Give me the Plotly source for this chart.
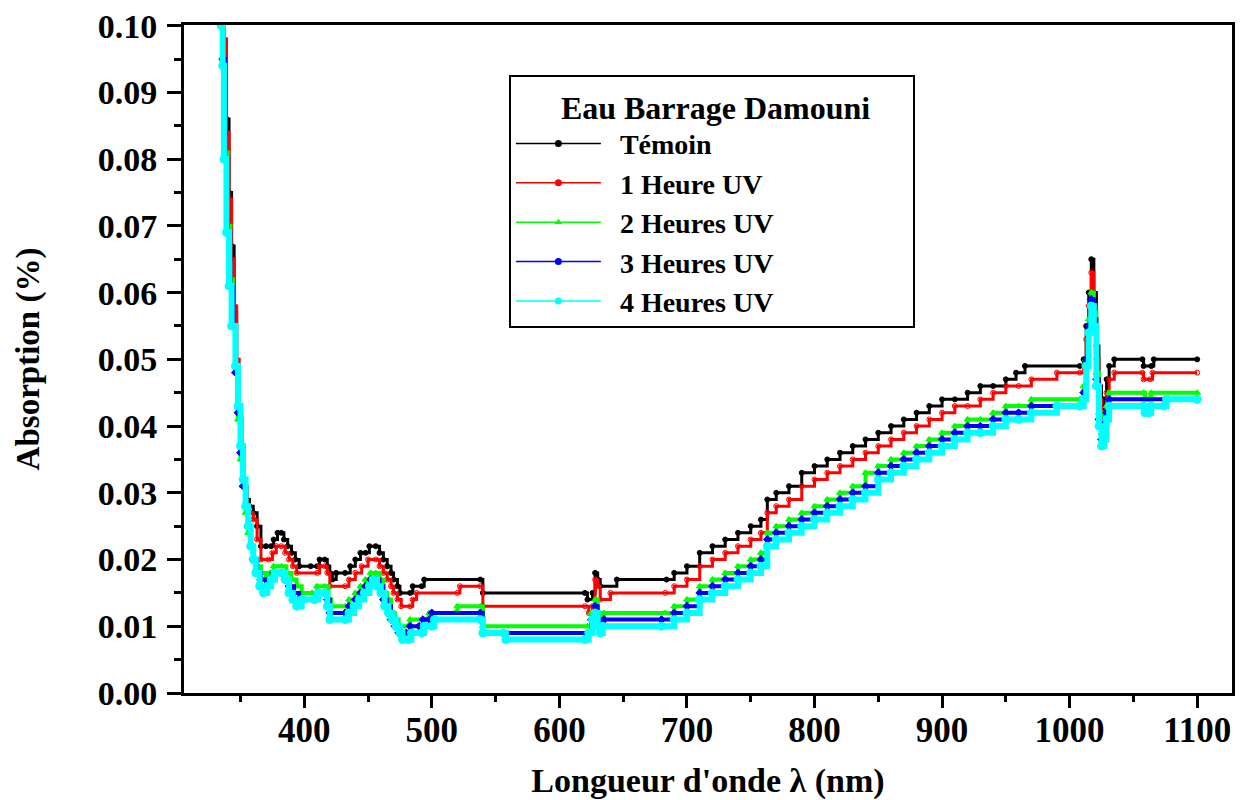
import plotly.graph_objects as go

# ---------------- data ----------------
wl_temoin = [335, 337, 339, 341, 343, 345, 347, 349, 351, 353, 355, 357, 360, 363, 366, 370, 374, 376, 379, 382,
             384, 387, 390, 393, 396, 405, 410, 412, 416, 418, 420, 422, 425, 432, 436, 440, 444, 448, 451, 456,
             459, 462, 465, 468, 470, 473, 475, 483, 485, 492, 494, 538, 540, 620, 622, 626, 628, 630, 632, 645,
             684, 690, 700, 710, 720, 730, 740, 750, 758, 763, 770, 780, 790, 800, 810, 820, 830, 840, 850, 860,
             870, 880, 890, 900, 910, 920, 930, 940, 950, 958, 965, 1008, 1011, 1013, 1015, 1017, 1019, 1021, 1023, 1025,
             1027, 1029, 1031, 1035, 1057, 1058, 1064, 1066, 1100]
abs_temoin = [0.100, 0.093, 0.086, 0.075, 0.067, 0.057, 0.048, 0.041, 0.036, 0.031, 0.029, 0.028, 0.027, 0.025, 0.022, 0.022, 0.022, 0.023, 0.024, 0.024,
              0.023, 0.022, 0.021, 0.020, 0.019, 0.019, 0.019, 0.020, 0.020, 0.019, 0.018, 0.017, 0.018, 0.018, 0.019, 0.020, 0.021, 0.021, 0.022, 0.022,
              0.021, 0.020, 0.019, 0.018, 0.017, 0.016, 0.015, 0.015, 0.016, 0.016, 0.017, 0.017, 0.015, 0.015, 0.014, 0.015, 0.018, 0.017, 0.016, 0.017,
              0.017, 0.018, 0.019, 0.021, 0.022, 0.023, 0.024, 0.025, 0.026, 0.029, 0.030, 0.031, 0.033, 0.034, 0.035, 0.036, 0.037, 0.038, 0.039, 0.040,
              0.041, 0.042, 0.043, 0.044, 0.044, 0.045, 0.046, 0.046, 0.047, 0.048, 0.049, 0.049, 0.050, 0.055, 0.060, 0.065, 0.060, 0.052, 0.046, 0.042,
              0.044, 0.047, 0.049, 0.050, 0.050, 0.049, 0.049, 0.050, 0.050]

wl_1h = [335, 337, 339, 341, 343, 345, 347, 349, 351, 353, 355, 357, 360, 363, 366, 372, 375, 378, 382, 385,
         388, 391, 394, 410, 412, 416, 418, 420, 432, 435, 440, 445, 450, 456, 459, 462, 465, 468, 470, 473,
         476, 483, 485, 488, 520, 522, 538, 540, 620, 623, 626, 628, 630, 632, 640, 683, 690, 700, 710, 720,
         730, 740, 750, 758, 763, 770, 780, 790, 800, 810, 820, 830, 840, 850, 860, 870, 880, 890, 900, 910,
         920, 930, 940, 950, 960, 970, 990, 1008, 1011, 1013, 1015, 1017, 1019, 1021, 1023, 1025, 1027, 1029, 1031, 1035,
         1057, 1058, 1063, 1065, 1100]
abs_1h = [0.100, 0.098, 0.084, 0.074, 0.065, 0.058, 0.050, 0.042, 0.036, 0.031, 0.028, 0.027, 0.026, 0.023, 0.020, 0.020, 0.021, 0.022, 0.022, 0.021,
          0.020, 0.019, 0.018, 0.018, 0.019, 0.019, 0.018, 0.016, 0.016, 0.017, 0.018, 0.019, 0.020, 0.020, 0.019, 0.018, 0.017, 0.016, 0.015, 0.014,
          0.013, 0.013, 0.014, 0.015, 0.015, 0.016, 0.016, 0.013, 0.013, 0.012, 0.013, 0.017, 0.016, 0.014, 0.015, 0.015, 0.016, 0.017, 0.019, 0.020,
          0.021, 0.022, 0.023, 0.024, 0.027, 0.028, 0.029, 0.031, 0.032, 0.033, 0.034, 0.035, 0.036, 0.037, 0.038, 0.039, 0.040, 0.041, 0.042, 0.043,
          0.043, 0.044, 0.045, 0.046, 0.046, 0.047, 0.048, 0.048, 0.049, 0.053, 0.058, 0.063, 0.058, 0.050, 0.044, 0.041, 0.042, 0.045, 0.047, 0.048,
          0.048, 0.047, 0.047, 0.048, 0.048]

wl_2h = [335, 336, 338, 340, 342, 344, 346, 348, 350, 352, 354, 356, 358, 360, 363, 366, 370, 373, 376, 382,
         386, 390, 394, 398, 406, 410, 416, 419, 421, 432, 435, 440, 444, 448, 452, 456, 459, 462, 465, 468,
         471, 474, 481, 483, 496, 498, 518, 520, 538, 540, 622, 625, 628, 630, 632, 635, 683, 690, 700, 710,
         720, 730, 740, 750, 758, 763, 770, 780, 790, 800, 810, 820, 830, 840, 850, 860, 870, 880, 890, 900,
         910, 920, 930, 940, 950, 960, 970, 1008, 1011, 1013, 1015, 1017, 1019, 1021, 1023, 1025, 1027, 1029, 1031, 1058,
         1059, 1062, 1064, 1100]
abs_2h = [0.100, 0.095, 0.081, 0.070, 0.062, 0.055, 0.049, 0.041, 0.035, 0.031, 0.027, 0.024, 0.022, 0.020, 0.019, 0.018, 0.017, 0.018, 0.019, 0.019,
          0.018, 0.017, 0.016, 0.015, 0.015, 0.016, 0.016, 0.014, 0.013, 0.013, 0.014, 0.015, 0.016, 0.017, 0.018, 0.018, 0.017, 0.015, 0.014, 0.012,
          0.011, 0.010, 0.010, 0.011, 0.011, 0.012, 0.012, 0.013, 0.013, 0.010, 0.010, 0.012, 0.014, 0.012, 0.011, 0.012, 0.012, 0.013, 0.014, 0.016,
          0.017, 0.018, 0.019, 0.020, 0.021, 0.024, 0.025, 0.026, 0.027, 0.028, 0.029, 0.030, 0.031, 0.033, 0.034, 0.035, 0.036, 0.037, 0.038, 0.039,
          0.040, 0.041, 0.041, 0.042, 0.043, 0.043, 0.044, 0.044, 0.046, 0.050, 0.056, 0.060, 0.057, 0.048, 0.042, 0.039, 0.040, 0.043, 0.045, 0.045,
          0.044, 0.044, 0.045, 0.045]

wl_3h = [335, 336, 338, 340, 342, 344, 346, 348, 350, 352, 354, 356, 358, 360, 363, 366, 370, 373, 376, 382,
         385, 388, 392, 396, 408, 411, 416, 418, 420, 432, 435, 440, 444, 448, 452, 456, 459, 462, 465, 468,
         471, 474, 480, 483, 490, 493, 498, 500, 538, 540, 622, 625, 628, 630, 632, 635, 680, 690, 700, 710,
         720, 730, 740, 750, 758, 763, 770, 780, 790, 800, 810, 820, 830, 840, 850, 860, 870, 880, 890, 900,
         910, 920, 930, 940, 950, 960, 970, 1008, 1011, 1013, 1015, 1017, 1019, 1021, 1023, 1025, 1027, 1029, 1031, 1100]
abs_3h = [0.100, 0.095, 0.080, 0.069, 0.061, 0.055, 0.048, 0.042, 0.036, 0.031, 0.028, 0.025, 0.022, 0.020, 0.018, 0.017, 0.016, 0.017, 0.018, 0.018,
          0.017, 0.016, 0.015, 0.014, 0.014, 0.015, 0.015, 0.014, 0.012, 0.012, 0.013, 0.014, 0.015, 0.016, 0.017, 0.017, 0.016, 0.014, 0.013, 0.011,
          0.010, 0.009, 0.009, 0.010, 0.010, 0.011, 0.011, 0.012, 0.012, 0.009, 0.009, 0.011, 0.013, 0.011, 0.010, 0.011, 0.011, 0.012, 0.013, 0.015,
          0.016, 0.017, 0.018, 0.019, 0.020, 0.023, 0.024, 0.025, 0.026, 0.027, 0.028, 0.029, 0.030, 0.031, 0.033, 0.034, 0.035, 0.036, 0.037, 0.038,
          0.039, 0.040, 0.040, 0.041, 0.042, 0.042, 0.043, 0.043, 0.045, 0.050, 0.055, 0.059, 0.056, 0.047, 0.041, 0.038, 0.039, 0.042, 0.044, 0.044]

wl_4h = [335, 336, 337, 339, 341, 343, 346, 348, 350, 352, 354, 356, 358, 360, 362, 365, 368, 371, 374, 377,
         382, 385, 388, 391, 394, 398, 408, 411, 416, 418, 420, 432, 435, 439, 443, 447, 451, 454, 457, 460,
         463, 466, 469, 472, 475, 477, 481, 484, 492, 494, 500, 502, 538, 540, 556, 558, 620, 623, 626, 628,
         630, 632, 634, 680, 690, 700, 710, 720, 730, 740, 750, 758, 763, 770, 780, 790, 800, 810, 820, 830,
         840, 850, 860, 870, 880, 890, 900, 910, 920, 930, 940, 950, 960, 970, 990, 1008, 1011, 1013, 1015, 1017,
         1019, 1021, 1023, 1025, 1027, 1029, 1031, 1058, 1059, 1062, 1064, 1074, 1076, 1100]
abs_4h = [0.100, 0.094, 0.080, 0.069, 0.061, 0.055, 0.049, 0.043, 0.037, 0.032, 0.028, 0.025, 0.022, 0.020, 0.018, 0.016, 0.015, 0.016, 0.017, 0.018,
          0.018, 0.017, 0.015, 0.014, 0.013, 0.014, 0.014, 0.015, 0.015, 0.013, 0.011, 0.011, 0.012, 0.013, 0.014, 0.015, 0.016, 0.017, 0.016, 0.015,
          0.013, 0.012, 0.011, 0.010, 0.009, 0.008, 0.008, 0.009, 0.009, 0.010, 0.010, 0.011, 0.011, 0.009, 0.009, 0.008, 0.008, 0.009, 0.011, 0.012,
          0.010, 0.009, 0.010, 0.010, 0.011, 0.012, 0.014, 0.015, 0.016, 0.017, 0.018, 0.019, 0.022, 0.023, 0.024, 0.025, 0.026, 0.027, 0.028, 0.029,
          0.030, 0.032, 0.033, 0.034, 0.035, 0.036, 0.037, 0.038, 0.039, 0.039, 0.040, 0.041, 0.041, 0.042, 0.043, 0.043, 0.044, 0.049, 0.054, 0.058,
          0.055, 0.046, 0.040, 0.037, 0.038, 0.041, 0.043, 0.043, 0.042, 0.042, 0.043, 0.043, 0.044, 0.044]

series_names = ["Témoin", "1 Heure UV", "2 Heures UV", "3 Heures UV", "4 Heures UV"]
legend_title = "Eau Barrage Damouni"
x_title = "Longueur d'onde λ (nm)"
y_title = "Absorption (%)"
x_ticks = [400, 500, 600, 700, 800, 900, 1000, 1100]
y_ticks = [0.00, 0.01, 0.02, 0.03, 0.04, 0.05, 0.06, 0.07, 0.08, 0.09, 0.10]

# ---------------- styles ----------------
colors = ["#000000", "#FF0000", "#00FF00", "#0000FF", "#00FFFF"]
symbols = ["circle", "circle-open", "triangle-up", "diamond", "circle"]
line_widths = [3, 3, 4, 4, 6]
marker_sizes = [5, 5, 6, 6, 8]
FONT = "Liberation Serif"

fig = go.Figure()
data = [(wl_temoin, abs_temoin), (wl_1h, abs_1h), (wl_2h, abs_2h), (wl_3h, abs_3h), (wl_4h, abs_4h)]
for (xs, ys), name, c, s, lw, ms in zip(data, series_names, colors, symbols, line_widths, marker_sizes):
    fig.add_trace(go.Scatter(
        x=xs, y=ys, mode="lines+markers", name=name, showlegend=False,
        line=dict(color=c, width=lw, shape="hv"),
        marker=dict(color=c, symbol=s, size=ms, line=dict(color=c, width=1)),
        cliponaxis=True,
    ))
# legend entries (thin sample lines like the original legend)
for name, c, s in zip(series_names, colors, ["circle", "circle", "triangle-up", "circle", "circle"]):
    fig.add_trace(go.Scatter(
        x=[None], y=[None], mode="lines+markers", name="\u00a0\u00a0" + name,
        line=dict(color=c, width=1.5), marker=dict(color=c, symbol=s, size=7),
    ))

axis_common = dict(
    showline=True, linecolor="black", linewidth=3, mirror=True,
    ticks="outside", tickcolor="black", tickwidth=3,
    showgrid=False, zeroline=False, ticklabeloverflow="allow",
)

fig.update_xaxes(
    **axis_common, range=[305.7, 1127.3], tickmode="array", tickvals=x_ticks,
    ticktext=[str(v) for v in x_ticks], ticklen=12,
    tickfont=dict(family=FONT, size=35, color="black", weight="bold"),
    minor=dict(ticks="outside", dtick=50, tick0=0, ticklen=6, tickwidth=3, tickcolor="black"),
    title=dict(text=x_title, font=dict(family=FONT, size=34, color="black", weight="bold"), standoff=30),
    ticklabelstandoff=-8,
)
fig.update_yaxes(
    **axis_common, range=[0, 0.1001], tickmode="array", tickvals=y_ticks,
    ticktext=["%.2f" % v for v in y_ticks], ticklen=14,
    tickfont=dict(family=FONT, size=34, color="black", weight="bold"),
    minor=dict(ticks="outside", dtick=0.005, tick0=0, ticklen=7, tickwidth=3, tickcolor="black"),
    title=dict(text=y_title, font=dict(family=FONT, size=33, color="black", weight="bold"), standoff=49),
    ticklabelstandoff=3,
)

fig.update_layout(
    width=1242, height=800,
    margin=dict(l=184, r=10, t=25, b=107, autoexpand=False),
    paper_bgcolor="white", plot_bgcolor="white",
    showlegend=True,
    legend=dict(
        title=dict(text="\u00a0" * 6 + legend_title + "\u00a0" * 5,
                   font=dict(family=FONT, size=32, color="black", weight="bold")),
        font=dict(family=FONT, size=28, color="black", weight="bold"),
        x=0.310, y=0.925, xanchor="left", yanchor="top",
        bgcolor="white", bordercolor="black", borderwidth=2,
        tracegroupgap=0, itemwidth=85,
    ),
)

fig.write_html(
    "out.html",
    config={"displayModeBar": False},
    post_script="document.body.style.margin='0';document.body.style.overflow='hidden';",
)
